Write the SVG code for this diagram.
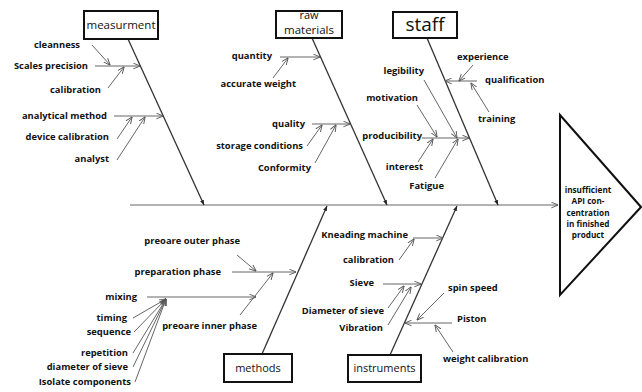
<svg xmlns="http://www.w3.org/2000/svg" width="642" height="392" viewBox="0 0 642 392">
<defs>
<marker id="a" viewBox="0 0 10 10" refX="9.5" refY="5" markerWidth="7" markerHeight="7" markerUnits="userSpaceOnUse" orient="auto"><path d="M0,1 L10,5 L0,9" fill="none" stroke="#555" stroke-width="1.3"/></marker>
<marker id="b" viewBox="0 0 10 10" refX="10" refY="5" markerWidth="5" markerHeight="5" markerUnits="userSpaceOnUse" orient="auto"><path d="M0,1 L10,5 L0,9 Z" fill="#222"/></marker>
<style>
.t{font-family:"Open Sans","DejaVu Sans",sans-serif;font-weight:700;font-size:9.4px;fill:#111}
.e{text-anchor:end}
.m{text-anchor:middle}
.bx{fill:#fff;stroke:#111;stroke-width:2}
.h{font-family:"Open Sans","DejaVu Sans",sans-serif;font-size:11px;fill:#111;text-anchor:middle}
.s{stroke:#666;stroke-width:1;fill:none;marker-end:url(#a)}
.bone{stroke:#333;stroke-width:1.3;fill:none;marker-end:url(#b)}
.tri{font-family:"Open Sans","DejaVu Sans",sans-serif;font-weight:700;font-size:8.2px;fill:#111;text-anchor:middle}
</style>
</defs>
<rect width="642" height="392" fill="#fff"/>
<g id="connectors">
<line class="s" x1="130" y1="205" x2="558" y2="205"/>
<line class="bone" x1="128" y1="39" x2="204" y2="205"/>
<line class="bone" x1="312" y1="38" x2="387" y2="205"/>
<line class="bone" x1="427" y1="38" x2="498" y2="205"/>
<line class="bone" x1="262" y1="354" x2="327" y2="206"/>
<line class="bone" x1="390" y1="355" x2="457" y2="206"/>
<line class="s" x1="95" y1="66" x2="140" y2="66"/>
<line class="s" x1="92" y1="45" x2="110" y2="65"/>
<line class="s" x1="108" y1="88" x2="124" y2="67"/>
<line class="s" x1="114" y1="116" x2="163" y2="116"/>
<line class="s" x1="117" y1="139" x2="132" y2="117"/>
<line class="s" x1="117" y1="160" x2="145" y2="117"/>
<line class="s" x1="280" y1="57" x2="320" y2="57"/>
<line class="s" x1="273" y1="78" x2="288" y2="58"/>
<line class="s" x1="312" y1="124" x2="350" y2="124"/>
<line class="s" x1="307" y1="146" x2="322" y2="125"/>
<line class="s" x1="315" y1="163" x2="336" y2="125"/>
<line class="s" x1="477" y1="81" x2="445" y2="81"/>
<line class="s" x1="473" y1="65" x2="459" y2="81"/>
<line class="s" x1="489" y1="112" x2="471" y2="83"/>
<line class="s" x1="422" y1="138" x2="469" y2="138"/>
<line class="s" x1="424" y1="80" x2="457" y2="138"/>
<line class="s" x1="417" y1="105" x2="437" y2="137"/>
<line class="s" x1="418" y1="162" x2="433" y2="139"/>
<line class="s" x1="435" y1="178" x2="458" y2="139"/>
<line class="s" x1="232" y1="272" x2="296" y2="272"/>
<line class="s" x1="237" y1="255" x2="256" y2="271"/>
<line class="s" x1="147" y1="297" x2="256" y2="297"/>
<line class="s" x1="240" y1="315" x2="273" y2="273"/>
<line class="s" x1="133" y1="318" x2="166" y2="299"/>
<line class="s" x1="134" y1="332" x2="166" y2="299"/>
<line class="s" x1="133" y1="353" x2="166" y2="299"/>
<line class="s" x1="133" y1="367" x2="166" y2="299"/>
<line class="s" x1="135" y1="382" x2="166" y2="299"/>
<line class="s" x1="413" y1="238" x2="443" y2="238"/>
<line class="s" x1="399" y1="260" x2="414" y2="239"/>
<line class="s" x1="383" y1="284" x2="421" y2="284"/>
<line class="s" x1="388" y1="308" x2="404" y2="286"/>
<line class="s" x1="388" y1="325" x2="411" y2="287"/>
<line class="s" x1="444" y1="293" x2="417" y2="320"/>
<line class="s" x1="452" y1="323" x2="405" y2="323"/>
<line class="s" x1="453" y1="352" x2="435" y2="325"/>
</g>
<g id="measurment">
<rect class="bx" x="84" y="11" width="74" height="28"/>
<text class="h" x="121" y="29" style="font-size:11.5px">measurment</text>
<text class="t e" x="80" y="48">cleanness</text>
<text class="t e" x="88" y="69">Scales precision</text>
<text class="t e" x="101" y="93">calibration</text>
<text class="t e" x="107" y="119">analytical method</text>
<text class="t e" x="109" y="140">device calibration</text>
<text class="t e" x="109" y="162">analyst</text>
</g>
<g id="raw-materials">
<rect class="bx" x="276" y="11" width="66" height="27"/>
<text class="h" x="309" y="19" style="font-size:11px">raw</text>
<text class="h" x="309" y="34" style="font-size:11.5px">materials</text>
<text class="t e" x="272" y="59">quantity</text>
<text class="t e" x="296" y="87">accurate weight</text>
<text class="t e" x="305" y="127">quality</text>
<text class="t e" x="303" y="149">storage conditions</text>
<text class="t e" x="311" y="171">Conformity</text>
</g>
<g id="staff">
<rect class="bx" x="393" y="12" width="64" height="26"/>
<text class="h" x="425" y="31" style="font-size:19px">staff</text>
<text class="t" x="457" y="60">experience</text>
<text class="t" x="485" y="83">qualification</text>
<text class="t" x="478" y="122">training</text>
<text class="t e" x="424" y="74">legibility</text>
<text class="t e" x="418" y="101">motivation</text>
<text class="t e" x="422" y="139">producibility</text>
<text class="t e" x="423" y="170">interest</text>
<text class="t e" x="444" y="189">Fatigue</text>
</g>
<g id="methods">
<rect class="bx" x="224" y="354" width="68" height="28"/>
<text class="h" x="258" y="372">methods</text>
<text class="t e" x="240" y="244">preoare outer phase</text>
<text class="t e" x="221" y="275">preparation phase</text>
<text class="t e" x="137" y="300">mixing</text>
<text class="t e" x="257" y="329">preoare inner phase</text>
<text class="t e" x="127" y="321">timing</text>
<text class="t e" x="131" y="335">sequence</text>
<text class="t e" x="128" y="356">repetition</text>
<text class="t e" x="128" y="370">diameter of sieve</text>
<text class="t e" x="131" y="385">Isolate components</text>
</g>
<g id="instruments">
<rect class="bx" x="348" y="355" width="73" height="27"/>
<text class="h" x="384.5" y="372">instruments</text>
<text class="t e" x="408" y="238">Kneading machine</text>
<text class="t e" x="394" y="263">calibration</text>
<text class="t e" x="374" y="286">Sieve</text>
<text class="t e" x="384" y="314">Diameter of sieve</text>
<text class="t e" x="383" y="331">Vibration</text>
<text class="t" x="448" y="291">spin speed</text>
<text class="t" x="457" y="322">Piston</text>
<text class="t" x="443" y="362">weight calibration</text>
</g>
<g id="effect">
<path d="M560,115 L641,207 L560,295 Z" fill="#fff" stroke="#111" stroke-width="2"/>
<text class="tri" x="588" y="193">insufficient</text>
<text class="tri" x="588" y="204.3">API con-</text>
<text class="tri" x="588" y="215.6">centration</text>
<text class="tri" x="588" y="226.9">in finished</text>
<text class="tri" x="588" y="238.2">product</text>
</g>
</svg>
